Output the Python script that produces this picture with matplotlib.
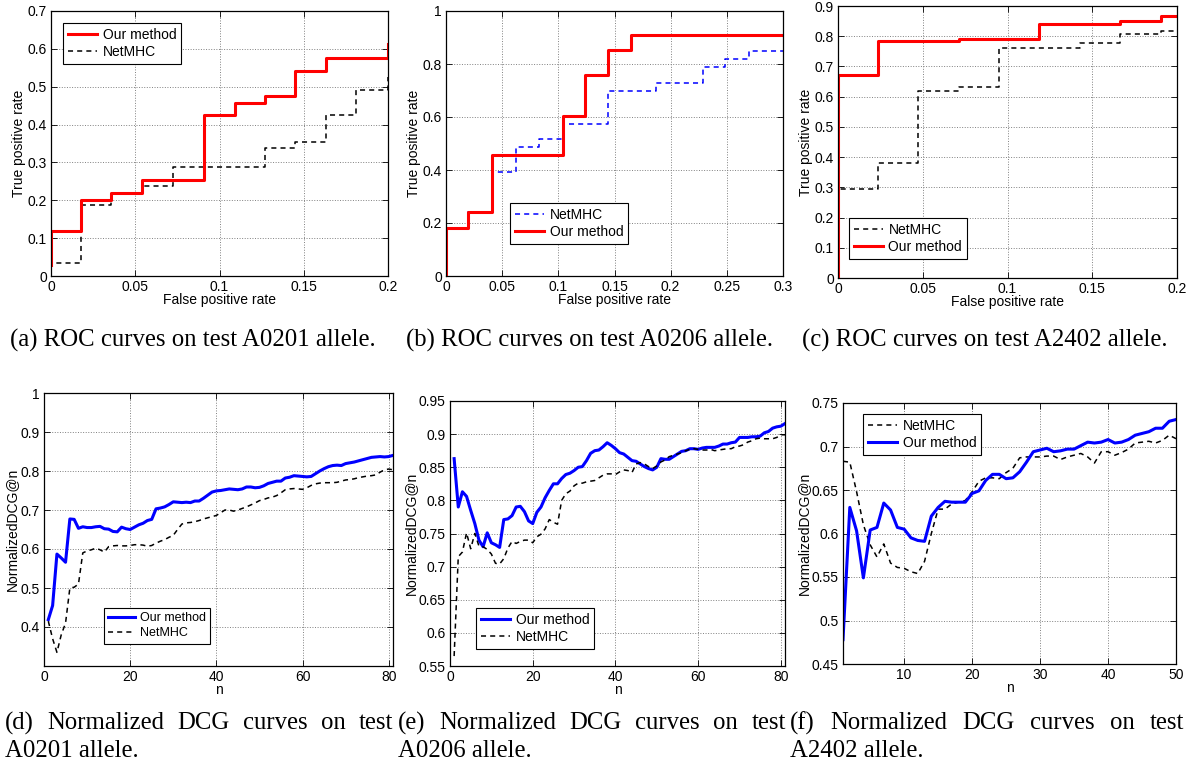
import matplotlib

matplotlib.use("Agg")
import matplotlib.pyplot as plt
import numpy as np
from matplotlib.ticker import FormatStrFormatter

plt.rcParams["font.family"] = ["Liberation Sans", "DejaVu Sans"]
plt.rcParams["font.size"] = 10

W, H = 1194, 767

# ROC corner points (fpr, tpr)
roc_a_ours_fpr = [0, 0, 0.0178, 0.0355, 0.0543, 0.0908, 0.109, 0.127, 0.145, 0.1635, 0.2]
roc_a_ours_tpr = [0.03, 0.119, 0.2016, 0.220, 0.2526, 0.424, 0.458, 0.475, 0.542, 0.577, 0.613]
roc_a_net_fpr = [0, 0, 0.0178, 0.0355, 0.0543, 0.0723, 0.127, 0.145, 0.1635, 0.181, 0.2]
roc_a_net_tpr = [0, 0.034, 0.1866, 0.220, 0.2377, 0.2887, 0.339, 0.355, 0.424, 0.491, 0.526]

roc_b_ours_fpr = [0, 0, 0.0199, 0.041, 0.1039, 0.124, 0.144, 0.165, 0.3]
roc_b_ours_tpr = [0, 0.18, 0.240, 0.455, 0.605, 0.758, 0.852, 0.911, 0.911]
roc_b_net_fpr = [0, 0, 0.0199, 0.041, 0.0623, 0.0825, 0.1039, 0.144, 0.187, 0.2288, 0.2487, 0.270, 0.3]
roc_b_net_tpr = [0, 0.18, 0.240, 0.392, 0.4855, 0.516, 0.574, 0.699, 0.727, 0.787, 0.819, 0.850, 0.850]

roc_c_ours_fpr = [0, 0, 0.0234, 0.0716, 0.1188, 0.1666, 0.1904, 0.2]
roc_c_ours_tpr = [0, 0.671, 0.783, 0.792, 0.841, 0.850, 0.867, 0.867]
roc_c_net_fpr = [0, 0, 0.0234, 0.0474, 0.0716, 0.095, 0.1426, 0.1666, 0.1904, 0.2]
roc_c_net_tpr = [0, 0.294, 0.382, 0.618, 0.632, 0.760, 0.776, 0.809, 0.818, 0.818]

# Normalized DCG@n
ndcg_d_ours = [0.419, 0.455, 0.587, 0.577, 0.566, 0.677, 0.676, 0.653, 0.657, 0.655,
               0.655, 0.657, 0.658, 0.652, 0.651, 0.645, 0.644, 0.656, 0.652, 0.650,
               0.656, 0.662, 0.666, 0.673, 0.676, 0.703, 0.705, 0.708, 0.714, 0.721,
               0.720, 0.719, 0.720, 0.719, 0.723, 0.723, 0.730, 0.738, 0.746, 0.749,
               0.750, 0.752, 0.754, 0.753, 0.752, 0.754, 0.759, 0.759, 0.757, 0.758,
               0.762, 0.768, 0.771, 0.774, 0.774, 0.782, 0.784, 0.788, 0.787, 0.786,
               0.785, 0.786, 0.793, 0.800, 0.806, 0.811, 0.814, 0.815, 0.814, 0.819,
               0.821, 0.823, 0.826, 0.829, 0.832, 0.835, 0.836, 0.837, 0.836, 0.837,
               0.840]
ndcg_d_net = [0.415, 0.370, 0.335, 0.380, 0.410, 0.500, 0.502, 0.510, 0.590, 0.595,
              0.598, 0.602, 0.598, 0.592, 0.606, 0.608, 0.609, 0.608, 0.608, 0.609,
              0.611, 0.611, 0.610, 0.607, 0.609, 0.615, 0.620, 0.624, 0.630, 0.635,
              0.650, 0.664, 0.667, 0.668, 0.670, 0.673, 0.677, 0.680, 0.683, 0.686,
              0.693, 0.700, 0.700, 0.697, 0.700, 0.704, 0.708, 0.713, 0.718, 0.724,
              0.727, 0.731, 0.733, 0.737, 0.744, 0.752, 0.754, 0.755, 0.754, 0.753,
              0.757, 0.763, 0.767, 0.769, 0.770, 0.770, 0.770, 0.771, 0.774, 0.777,
              0.778, 0.780, 0.783, 0.785, 0.787, 0.788, 0.790, 0.797, 0.803, 0.805,
              0.803]

ndcg_e_ours = [0.863, 0.790, 0.813, 0.806, 0.785, 0.765, 0.740, 0.730, 0.751, 0.736,
               0.733, 0.729, 0.771, 0.772, 0.777, 0.790, 0.791, 0.783, 0.769, 0.765,
               0.782, 0.790, 0.804, 0.815, 0.825, 0.825, 0.833, 0.839, 0.841, 0.845,
               0.850, 0.851, 0.860, 0.871, 0.875, 0.876, 0.881, 0.887, 0.883, 0.878,
               0.872, 0.870, 0.865, 0.860, 0.859, 0.855, 0.851, 0.848, 0.846, 0.850,
               0.863, 0.862, 0.862, 0.866, 0.870, 0.874, 0.875, 0.878, 0.878, 0.877,
               0.879, 0.880, 0.880, 0.880, 0.882, 0.885, 0.885, 0.887, 0.888, 0.895,
               0.895, 0.895, 0.896, 0.896, 0.897, 0.902, 0.904, 0.909, 0.911, 0.912,
               0.916]
ndcg_e_net = [0.565, 0.715, 0.722, 0.751, 0.727, 0.750, 0.731, 0.730, 0.726, 0.719,
              0.705, 0.704, 0.712, 0.728, 0.738, 0.735, 0.738, 0.740, 0.740, 0.736,
              0.745, 0.749, 0.757, 0.771, 0.767, 0.764, 0.800, 0.810, 0.814, 0.822,
              0.826, 0.826, 0.828, 0.829, 0.830, 0.834, 0.838, 0.840, 0.840, 0.839,
              0.843, 0.846, 0.845, 0.842, 0.855, 0.857, 0.855, 0.851, 0.848, 0.852,
              0.858, 0.861, 0.866, 0.868, 0.870, 0.872, 0.875, 0.877, 0.878, 0.877,
              0.876, 0.876, 0.877, 0.875, 0.876, 0.877, 0.878, 0.878, 0.881, 0.882,
              0.884, 0.888, 0.890, 0.893, 0.894, 0.893, 0.893, 0.893, 0.895, 0.899,
              0.899]

ndcg_f_ours = [0.478, 0.630, 0.603, 0.549, 0.604, 0.607, 0.635, 0.627, 0.607, 0.605,
               0.595, 0.592, 0.591, 0.620, 0.630, 0.637, 0.636, 0.636, 0.636, 0.646,
               0.649, 0.661, 0.668, 0.668, 0.663, 0.664, 0.671, 0.682, 0.694, 0.696,
               0.698, 0.694, 0.695, 0.697, 0.697, 0.701, 0.705, 0.704, 0.705, 0.708,
               0.704, 0.705, 0.708, 0.713, 0.715, 0.717, 0.721, 0.721, 0.729, 0.731]
ndcg_f_net = [0.683, 0.682, 0.648, 0.610, 0.587, 0.573, 0.588, 0.566, 0.561, 0.560,
              0.556, 0.554, 0.568, 0.600, 0.628, 0.628, 0.634, 0.636, 0.638, 0.648,
              0.660, 0.664, 0.664, 0.663, 0.670, 0.675, 0.687, 0.688, 0.688, 0.688,
              0.689, 0.689, 0.685, 0.688, 0.690, 0.692, 0.688, 0.681, 0.694, 0.694,
              0.690, 0.693, 0.697, 0.704, 0.705, 0.706, 0.704, 0.707, 0.713, 0.709]

DASH = (0, (3.3, 2.7))


def rect(l, r, t, b):
    return [l / W, 1 - b / H, (r - l) / W, (b - t) / H]


def style(ax, xlim, ylim, xticks, yticks, xlabel, ylabel):
    ax.set_xlim(xlim)
    ax.set_ylim(ylim)
    ax.set_xticks(xticks)
    ax.set_yticks(yticks)
    ax.xaxis.set_major_formatter(FormatStrFormatter("%g"))
    ax.yaxis.set_major_formatter(FormatStrFormatter("%g"))
    ax.set_axisbelow(True)
    ax.grid(True, ls=":", color="0.5", lw=0.7)
    ax.tick_params(direction="in", top=True, right=True, length=4, width=0.6, pad=3)
    for s in ax.spines.values():
        s.set_linewidth(0.9)
    ax.set_xlabel(xlabel, labelpad=-1)
    ax.set_ylabel(ylabel, labelpad=1)


def legend(ax, anchor, handles=None, labels=None, size=10):
    if handles is None:
        handles, labels = ax.get_legend_handles_labels()
    leg = ax.legend(handles, labels, loc="upper left", bbox_to_anchor=anchor,
                    borderaxespad=0, fancybox=False, framealpha=1, edgecolor="black",
                    handlelength=2.1, handletextpad=0.4, borderpad=0.35,
                    labelspacing=0.22, fontsize=size)
    leg.get_frame().set_linewidth(0.8)


fig = plt.figure(figsize=(W / 100, H / 100), dpi=100)

red = dict(color="red", lw=2.2, drawstyle="steps-post")
blk = dict(color="black", lw=1.1, ls=DASH, drawstyle="steps-post")

ax = fig.add_axes(rect(51, 388, 11, 276))
ax.plot(roc_a_net_fpr, roc_a_net_tpr, label="NetMHC", **blk)
ax.plot(roc_a_ours_fpr, roc_a_ours_tpr, label="Our method", **red)
style(ax, (0, 0.2), (0, 0.7), np.arange(0, 0.21, 0.05), np.arange(0, 0.71, 0.1),
      "False positive rate", "True positive rate")
h, l = ax.get_legend_handles_labels()
legend(ax, (0.036, 0.955), h[::-1], l[::-1])

ax = fig.add_axes(rect(446, 783, 11, 276))
ax.plot(roc_b_net_fpr, roc_b_net_tpr, label="NetMHC", color="blue", lw=1.1,
        ls=DASH, drawstyle="steps-post")
ax.plot(roc_b_ours_fpr, roc_b_ours_tpr, label="Our method", **red)
style(ax, (0, 0.3), (0, 1), np.arange(0, 0.31, 0.05), np.arange(0, 1.01, 0.2),
      "False positive rate", "True positive rate")
legend(ax, (0.19, 0.275))

ax = fig.add_axes(rect(838, 1177, 6, 278))
ax.plot(roc_c_net_fpr, roc_c_net_tpr, label="NetMHC", **blk)
ax.plot(roc_c_ours_fpr, roc_c_ours_tpr, label="Our method", **red)
style(ax, (0, 0.2), (0, 0.9), np.arange(0, 0.21, 0.05), np.arange(0, 0.91, 0.1),
      "False positive rate", "True positive rate")
legend(ax, (0.032, 0.221))

blue = dict(color="blue", lw=2.2)
blk2 = dict(color="black", lw=1.1, ls=DASH)

ax = fig.add_axes(rect(44, 393, 393, 666))
n = np.arange(1, len(ndcg_d_ours) + 1)
ax.plot(n, ndcg_d_ours, label="Our method", **blue)
ax.plot(n, ndcg_d_net, label="NetMHC", **blk2)
style(ax, (0, 81), (0.3, 1), np.arange(0, 81, 20), np.arange(0.4, 1.01, 0.1),
      "n", "NormalizedDCG@n")
legend(ax, (0.172, 0.212), size=9)

ax = fig.add_axes(rect(450, 785, 401, 666))
n = np.arange(1, len(ndcg_e_ours) + 1)
ax.plot(n, ndcg_e_ours, label="Our method", **blue)
ax.plot(n, ndcg_e_net, label="NetMHC", **blk2)
style(ax, (0, 81), (0.55, 0.95), np.arange(0, 81, 20), np.arange(0.55, 0.951, 0.05),
      "n", "NormalizedDCG@n")
legend(ax, (0.078, 0.219))

ax = fig.add_axes(rect(843, 1176, 403, 664))
n = np.arange(1, len(ndcg_f_ours) + 1)
ax.plot(n, ndcg_f_net, label="NetMHC", **blk2)
ax.plot(n, ndcg_f_ours, label="Our method", **blue)
style(ax, (1, 50), (0.45, 0.75), np.arange(10, 51, 10), np.arange(0.45, 0.751, 0.05),
      "n", "NormalizedDCG@n")
legend(ax, (0.06, 0.958))

# captions
cap = dict(family=["Liberation Serif", "DejaVu Serif"], fontsize=17.8, va="center")
for xc, txt in [(193, "(a) ROC curves on test A0201 allele."),
                (590, "(b) ROC curves on test A0206 allele."),
                (985, "(c) ROC curves on test A2402 allele.")]:
    fig.text(xc / W, 1 - 340 / H, txt, ha="center", **cap)

renderer = fig.canvas.get_renderer()


def justify(words, x0, x1, y):
    texts = [fig.text(0, 1 - y / H, w, ha="left", **cap) for w in words]
    widths = [t.get_window_extent(renderer).width for t in texts]
    gap = (x1 - x0 - sum(widths)) / (len(words) - 1)
    x = x0
    for t, w in zip(texts, widths):
        t.set_x(x / W)
        x += w + gap


for x0, x1, tag, allele in [(5, 393, "(d)", "A0201"), (398, 786, "(e)", "A0206"),
                            (790, 1184, "(f)", "A2402")]:
    justify([tag, "Normalized", "DCG", "curves", "on", "test"], x0, x1, 723)
    fig.text(x0 / W, 1 - 751 / H, allele + " allele.", ha="left", **cap)

fig.savefig("out.png", dpi=100)
